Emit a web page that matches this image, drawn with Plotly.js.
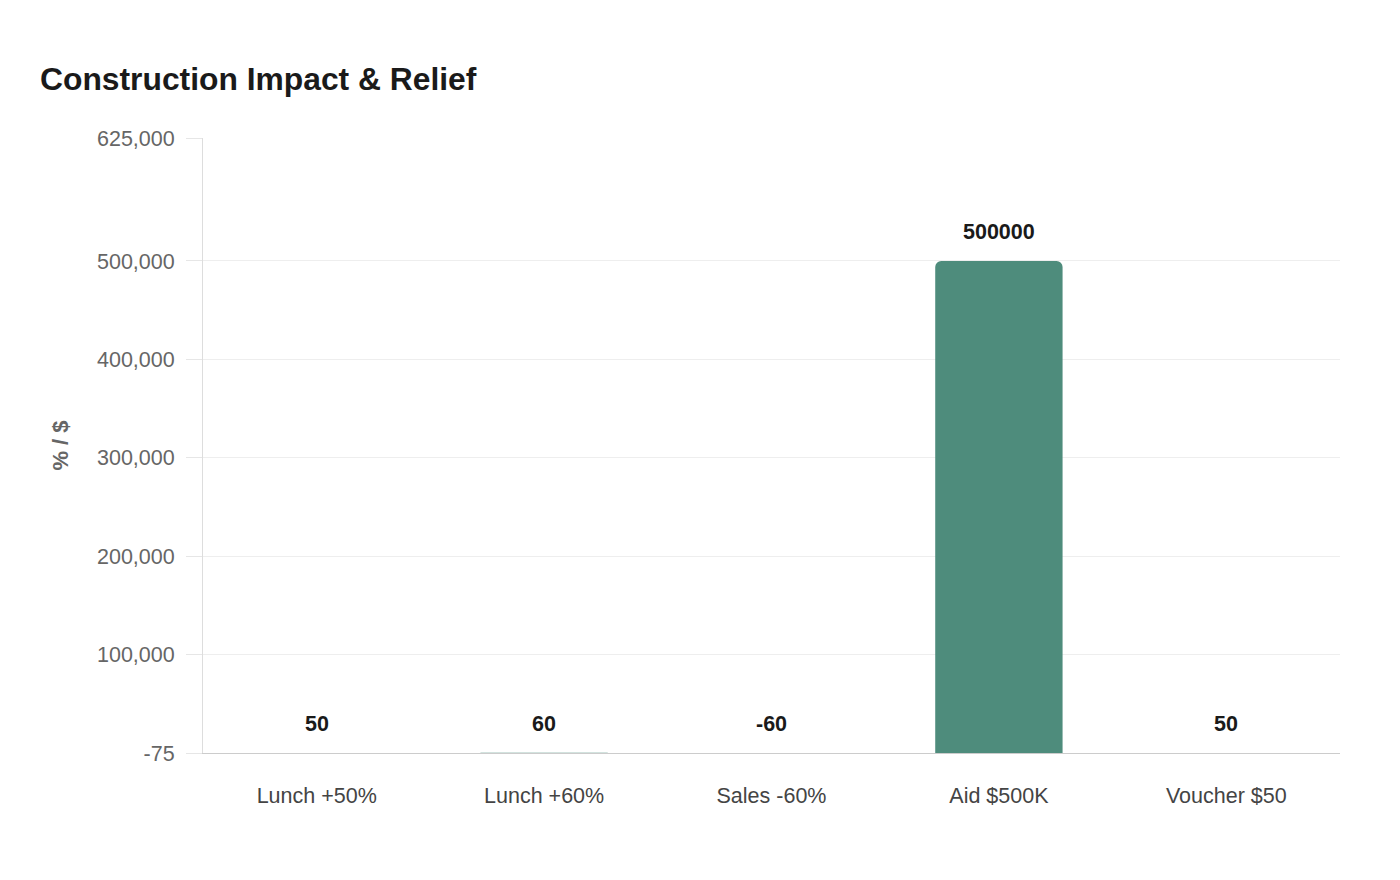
<!DOCTYPE html>
<html>
<head>
<meta charset="utf-8">
<script src="https://cdn.plot.ly/plotly-3.0.1.min.js"></script>
<style>
  html, body { margin: 0; padding: 0; background: #fff; }
  #chart { width: 1400px; height: 880px; }
</style>
</head>
<body>
<div id="chart"></div>
<script>
const categories = ["Lunch +50%", "Lunch +60%", "Sales -60%", "Aid $500K", "Voucher $50"];
const values = [50, 60, -60, 500000, 50];
const yTickVals = [-75, 100000, 200000, 300000, 400000, 500000, 625000];
const yTickText = ["-75", "100,000", "200,000", "300,000", "400,000", "500,000", "625,000"];
// a hair under full opacity so plotly doesn't widen sub-pixel bars to 1px
const BAR_COLOR = "rgba(78,140,124,0.999)";
const FONT = "Liberation Sans, Arial, sans-serif";

const data = [{
  type: "bar",
  x: categories,
  y: values,
  marker: { color: BAR_COLOR },
  hoverinfo: "x+y",
}];

// value labels sit just above each bar (or above zero for negatives)
const labels = categories.map((c, i) => ({
  x: c,
  y: Math.max(values[i], 0),
  text: "<b>" + values[i] + "</b>",
  showarrow: false,
  yanchor: "bottom",
  yshift: 15,
  font: { family: FONT, size: 21.5, color: "#1a1a1a" },
}));

const layout = {
  width: 1400,
  height: 880,
  paper_bgcolor: "#fff",
  plot_bgcolor: "#fff",
  font: { family: FONT },
  margin: { l: 203, r: 60, t: 138, b: 127 },
  title: {
    text: "<b>Construction Impact & Relief</b>",
    x: 40 / 1400, xref: "container", xanchor: "left",
    y: 1 - 79 / 880, yref: "container", yanchor: "middle",
    font: { family: FONT, size: 31.8, color: "#1a1a1a" },
  },
  bargap: 0.44,
  barcornerradius: 6,
  showlegend: false,
  xaxis: {
    type: "category",
    showline: true,
    linecolor: "#cccccc",
    linewidth: 1,
    showgrid: false,
    ticks: "",
    tickfont: { family: FONT, size: 21.5, color: "#444" },
    ticklabelstandoff: 23,
  },
  yaxis: {
    range: [-75, 625000],
    tickvals: yTickVals,
    ticktext: yTickText,
    showline: true,
    linecolor: "#dddddd",
    showgrid: true,
    gridcolor: "#eeeeee",
    zeroline: false,
    ticks: "outside",
    ticklen: 16,
    tickcolor: "#e6e6e6",
    ticklabelstandoff: 7,
    tickfont: { family: FONT, size: 21.5, color: "#666" },
    title: {
      text: "<b>% / $</b>",
      font: { family: FONT, size: 22, color: "#666" },
      standoff: 22,
    },
  },
  annotations: labels,
};

Plotly.newPlot("chart", data, layout, { displayModeBar: false });
</script>
</body>
</html>
